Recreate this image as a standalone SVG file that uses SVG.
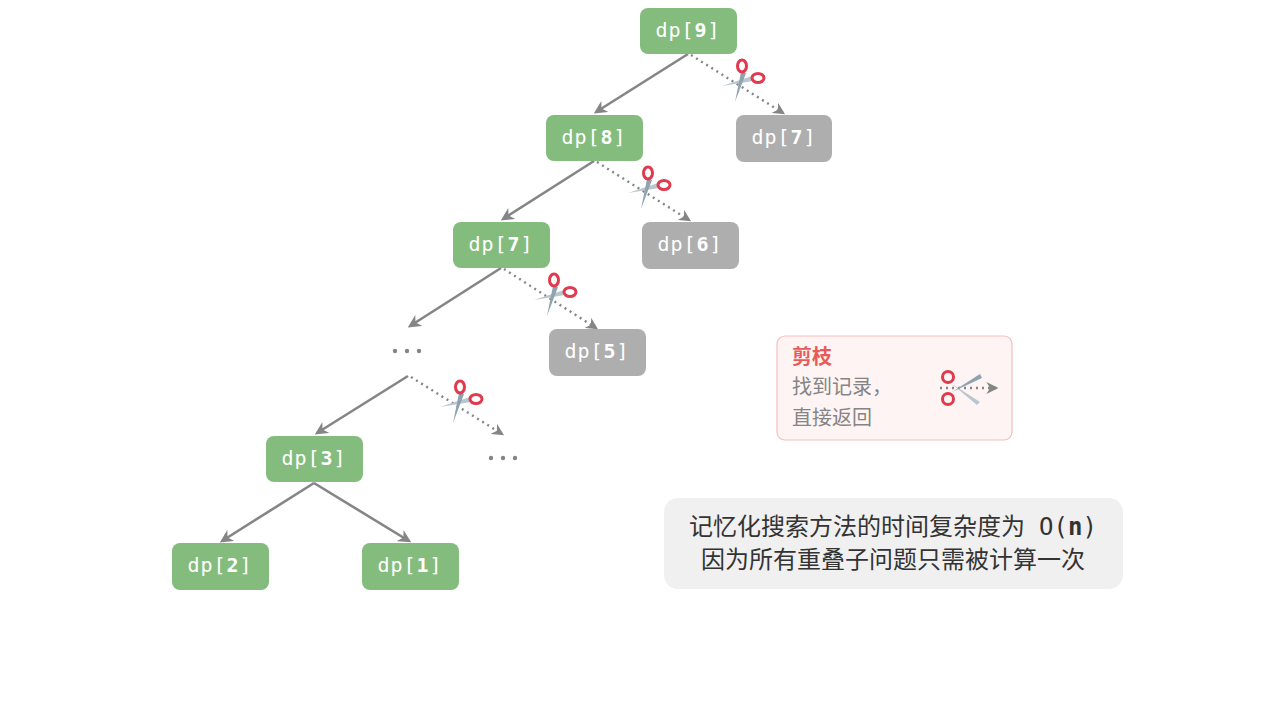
<svg xmlns="http://www.w3.org/2000/svg" width="1280" height="704" viewBox="0 0 1280 704">
<style>
.g{fill:#84BC7E}.r{fill:#AEAEAE}
.t{font-family:"DejaVu Sans Mono",monospace;font-size:20px;fill:#fff;text-anchor:middle;letter-spacing:1px}
.b{font-weight:bold}
.e{stroke:#858585;stroke-width:2.6;fill:none;marker-end:url(#a)}
.d{stroke:#858585;stroke-width:2.4;fill:none;stroke-dasharray:2 4;marker-end:url(#a)}
.cj{font-family:"Noto Sans CJK SC",sans-serif}
</style>
<defs>
<marker id="a" viewBox="0 0 10 10" refX="8" refY="5" markerWidth="5" markerHeight="5" orient="auto" markerUnits="strokeWidth"><path d="M0,0 L10,5 L0,10 L3,5z" fill="#858585"/></marker>
<g id="sc">
<path d="M-18,4 L12,-6 L13,-1 Z" fill="#B7C6CF"/>
<path d="M-5,20 L1,-10 L6,-9 Z" fill="#8FA3AE"/>
<ellipse cx="2" cy="-16" rx="4.5" ry="6" fill="none" stroke="#E03A4E" stroke-width="3"/>
<ellipse cx="18" cy="-4" rx="6" ry="4.5" fill="none" stroke="#E03A4E" stroke-width="3"/>
</g>
<g id="dt"><circle cx="-12" cy="0" r="2.2" fill="#858585"/><circle cx="0" cy="0" r="2.2" fill="#858585"/><circle cx="12" cy="0" r="2.2" fill="#858585"/></g>
</defs>
<g id="connectors">
<path class="e" d="M688,54 L596,112"/>
<path class="d" d="M691,55 L783,113"/>
<path class="e" d="M594,161 L503,219"/>
<path class="d" d="M597,162 L689,220"/>
<path class="e" d="M501,268 L410,326"/>
<path class="d" d="M504,269 L596,328"/>
<path class="e" d="M408,376 L317,433"/>
<path class="d" d="M411,377 L502,434"/>
<path class="e" d="M314,483 L222,541"/>
<path class="e" d="M314,483 L409,541"/>
</g>
<use href="#sc" x="740" y="82"/>
<use href="#sc" x="646" y="189"/>
<use href="#sc" x="552" y="296"/>
<use href="#sc" x="458" y="403"/>
<g id="n9"><rect class="g" x="640" y="8" width="97" height="46" rx="8"/><text class="t" x="688" y="37">dp[<tspan class="b">9</tspan>]</text></g>
<g id="n8"><rect class="g" x="546" y="115" width="97" height="46" rx="8"/><text class="t" x="594" y="144">dp[<tspan class="b">8</tspan>]</text></g>
<g id="n7g"><rect class="r" x="736" y="115" width="96" height="47" rx="8"/><text class="t" x="784" y="144">dp[<tspan class="b">7</tspan>]</text></g>
<g id="n7"><rect class="g" x="453" y="222" width="97" height="46" rx="8"/><text class="t" x="501" y="251">dp[<tspan class="b">7</tspan>]</text></g>
<g id="n6"><rect class="r" x="642" y="222" width="97" height="47" rx="8"/><text class="t" x="690" y="251">dp[<tspan class="b">6</tspan>]</text></g>
<g id="dots1"><use href="#dt" x="407" y="351"/></g>
<g id="n5"><rect class="r" x="549" y="329" width="97" height="47" rx="8"/><text class="t" x="597" y="358">dp[<tspan class="b">5</tspan>]</text></g>
<g id="n3"><rect class="g" x="266" y="436" width="97" height="46" rx="8"/><text class="t" x="314" y="465">dp[<tspan class="b">3</tspan>]</text></g>
<g id="dots2"><use href="#dt" x="503" y="458"/></g>
<g id="n2"><rect class="g" x="172" y="543" width="97" height="47" rx="8"/><text class="t" x="220" y="572">dp[<tspan class="b">2</tspan>]</text></g>
<g id="n1"><rect class="g" x="362" y="543" width="97" height="47" rx="8"/><text class="t" x="410" y="572">dp[<tspan class="b">1</tspan>]</text></g>
<g id="legend">
<rect x="777" y="336" width="235" height="104" rx="8" fill="#FEF4F4" stroke="#F7BEBE" stroke-width="1.2"/>
<text class="cj" x="792" y="364" font-size="20" font-weight="bold" fill="#E85A5A">剪枝</text>
<text class="cj" x="792" y="394" font-size="20" fill="#858585">找到记录，</text>
<text class="cj" x="792" y="425" font-size="20" fill="#858585">直接返回</text>
<path class="d" d="M940,388 L996,388"/>
<g transform="translate(960,388)">
<path d="M-8,-4 L20,14 L17,17 Z" fill="#B7C6CF"/>
<path d="M-8,4 L20,-14 L22,-10 Z" fill="#8FA3AE"/>
<circle cx="-12" cy="-11" r="5.5" fill="none" stroke="#E03A4E" stroke-width="3"/>
<circle cx="-12" cy="11" r="5.5" fill="none" stroke="#E03A4E" stroke-width="3"/>
</g>
</g>
<g id="caption">
<rect x="664" y="498" width="459" height="91" rx="14" fill="#F0F0F0"/>
<text class="cj" x="893" y="535" font-size="24" fill="#333" text-anchor="middle">记忆化搜索方法的时间复杂度为<tspan dx="14" font-family="DejaVu Sans Mono,monospace">O(<tspan font-weight="bold">n</tspan>)</tspan></text>
<text class="cj" x="893" y="568" font-size="24" fill="#333" text-anchor="middle">因为所有重叠子问题只需被计算一次</text>
</g>
</svg>
